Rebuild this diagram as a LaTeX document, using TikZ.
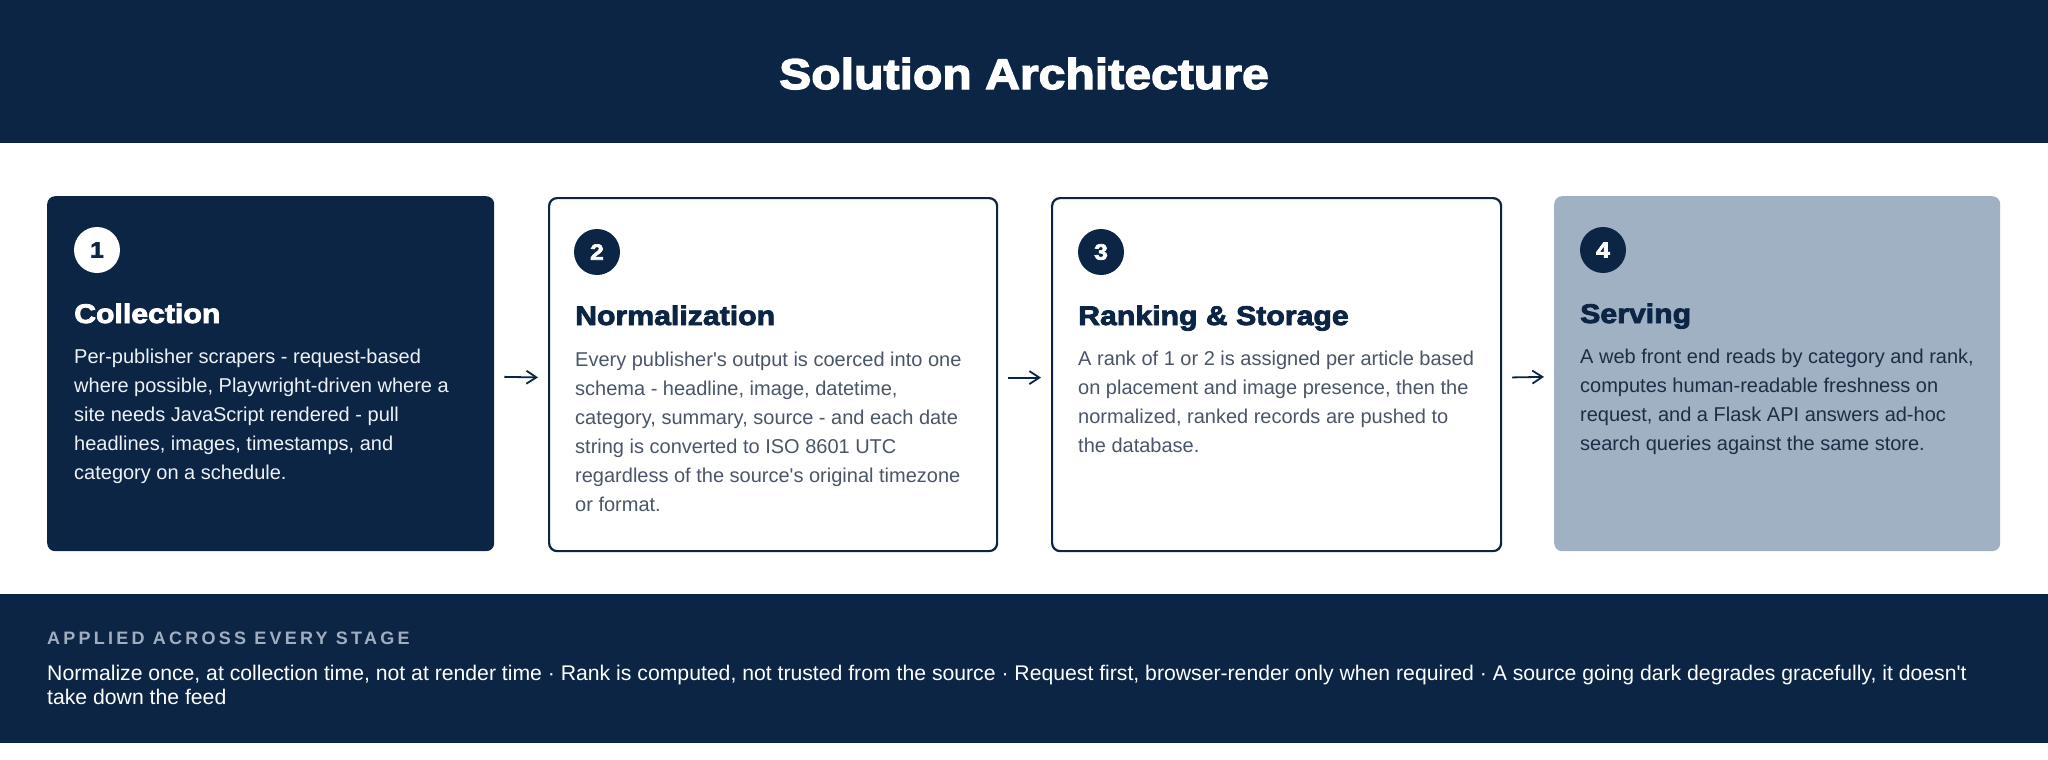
\documentclass[tikz,border=0pt]{standalone}
\usepackage{fontspec}
\setmainfont{Liberation Sans}[Ligatures=TeXOff]
\newfontfamily\heavyfont{Liberation Sans Bold}[FakeStretch=1.12, FakeBold=3]
\newfontfamily\spacedfont{Liberation Sans}[LetterSpace=18]
\usetikzlibrary{arrows.meta}
\definecolor{navy}{HTML}{0C2545}
\definecolor{steel}{HTML}{9FB1C3}
\definecolor{bodygrey}{HTML}{4A5568}
\definecolor{lighttext}{HTML}{EEF2F6}
\definecolor{darktext}{HTML}{1E2D45}
\definecolor{capgrey}{HTML}{A0AEC0}
\tikzset{
  cardbase/.style={rectangle, rounded corners=8pt, anchor=north west, inner sep=0pt},
  carddark/.style={cardbase, fill=navy},
  cardwhite/.style={cardbase, fill=white, draw=navy, line width=2.2pt},
  cardsteel/.style={cardbase, fill=steel},
  numdisc/.style={circle, minimum size=46pt, inner sep=0pt, font=\heavyfont\fontsize{22}{26}\selectfont},
  numlight/.style={numdisc, fill=white, text=navy},
  numdark/.style={numdisc, fill=navy, text=white},
  cardtitle/.style={anchor=base west, inner sep=0pt, font=\heavyfont\fontsize{27}{32}\selectfont},
  cardbody/.style={anchor=north west, inner sep=0pt, align=left, font=\fontsize{20}{29}\selectfont},
  flow/.style={draw=navy, line width=1.8pt, -{Straight Barb[length=10pt,width=13pt]}, shorten >=10pt, shorten <=10pt}
}
\begin{document}
\begin{tikzpicture}[x=1pt,y=-1pt]
\useasboundingbox (0,0) rectangle (2048,760);
\fill[white] (0,0) rectangle (2048,760);
% header
\fill[navy] (0,0) rectangle (2048,143);
\node[anchor=base, inner sep=0pt, text=white, font=\heavyfont\fontsize{43}{50}\selectfont] (title) at (1024,89) {Solution Architecture};
% cards
\node[carddark, minimum width=447pt, minimum height=355pt] (c1) at (47,196) {};
\node[cardwhite, minimum width=448pt, minimum height=353pt] (c2) at (548,197) {};
\node[cardwhite, minimum width=449pt, minimum height=353pt] (c3) at (1051,197) {};
\node[cardsteel, minimum width=446pt, minimum height=355pt] (c4) at (1554,196) {};
% numbers
\node[numlight] (n1) at (97,250) {1};
\node[numdark] (n2) at (597,252) {2};
\node[numdark] (n3) at (1101,252) {3};
\node[numdark] (n4) at (1603,250) {4};
% titles
\node[cardtitle, text=white] (t1) at (74,323) {Collection};
\node[cardtitle, text=navy] (t2) at (575,325) {Normalization};
\node[cardtitle, text=navy] (t3) at (1078,325) {Ranking \& Storage};
\node[cardtitle, text=navy] (t4) at (1580,323) {Serving};
% bodies
\node[cardbody, text=lighttext] (b1) at (74,342.7) {\strut Per-publisher scrapers - request-based\\
where possible, Playwright-driven where a\\
site needs JavaScript rendered - pull\\
headlines, images, timestamps, and\\
category on a schedule.};
\node[cardbody, text=bodygrey] (b2) at (575,345.7) {\strut Every publisher's output is coerced into one\\
schema - headline, image, datetime,\\
category, summary, source - and each date\\
string is converted to ISO 8601 UTC\\
regardless of the source's original timezone\\
or format.};
\node[cardbody, text=bodygrey] (b3) at (1078,344.7) {\strut A rank of 1 or 2 is assigned per article based\\
on placement and image presence, then the\\
normalized, ranked records are pushed to\\
the database.};
\node[cardbody, text=darktext] (b4) at (1580,342.7) {\strut A web front end reads by category and rank,\\
computes human-readable freshness on\\
request, and a Flask API answers ad-hoc\\
search queries against the same store.};
% arrows
\draw[flow] ([yshift=-3pt]c1.east) -- ([yshift=-3pt]c2.west);
\draw[flow] ([yshift=-3pt]c2.east) -- ([yshift=-3pt]c3.west);
\draw[flow] ([yshift=-3pt]c3.east) -- ([yshift=-3pt]c4.west);
% footer band
\fill[navy] (0,594) rectangle (2048,743);
\node[anchor=base west, inner sep=0pt, text=capgrey, font=\spacedfont\bfseries\fontsize{18}{21}\selectfont] (fh) at (47,644) {APPLIED ACROSS EVERY STAGE};
\node[anchor=north west, inner sep=0pt, align=left, text=white, font=\fontsize{21.2}{24.5}\selectfont] (ft) at (47,662.85) {\strut Normalize once, at collection time, not at render time · Rank is computed, not trusted from the source · Request first, browser-render only when required · A source going dark degrades gracefully, it doesn't\\
take down the feed};
\end{tikzpicture}
\end{document}
